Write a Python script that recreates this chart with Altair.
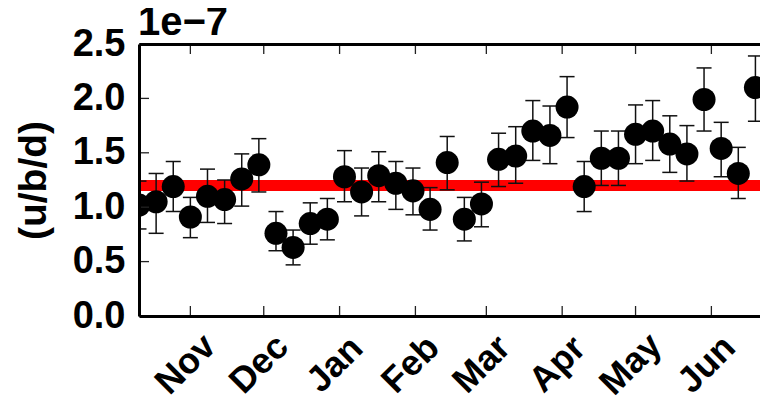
import altair as alt
import pandas as pd

# ---- data (ratio values in units of 1e-7) ----
dates = ["2015/10/11", "2015/10/18", "2015/10/25", "2015/11/01", "2015/11/08",
         "2015/11/15", "2015/11/22", "2015/11/29", "2015/12/06", "2015/12/13",
         "2015/12/20", "2015/12/27", "2016/01/03", "2016/01/10", "2016/01/17",
         "2016/01/24", "2016/01/31", "2016/02/07", "2016/02/14", "2016/02/21",
         "2016/02/28", "2016/03/06", "2016/03/13", "2016/03/20", "2016/03/27",
         "2016/04/03", "2016/04/10", "2016/04/17", "2016/04/24", "2016/05/01",
         "2016/05/08", "2016/05/15", "2016/05/22", "2016/05/29", "2016/06/05",
         "2016/06/12", "2016/06/19", "2016/06/26"]
ratio = [1.02, 1.05, 1.19, 0.91, 1.10, 1.07, 1.26, 1.39, 0.76, 0.63,
         0.85, 0.89, 1.28, 1.14, 1.29, 1.22, 1.15, 0.98, 1.41, 0.89,
         1.03, 1.44, 1.47, 1.70, 1.66, 1.92, 1.19, 1.45, 1.45, 1.67,
         1.70, 1.58, 1.49, 1.99, 1.54, 1.31, 2.10, 1.80]
err_hi = [1.24, 1.31, 1.42, 1.09, 1.35, 1.25, 1.49, 1.63, 0.96, 0.79,
          1.04, 1.08, 1.52, 1.36, 1.51, 1.42, 1.36, 1.18, 1.65, 1.09,
          1.23, 1.68, 1.74, 1.98, 1.93, 2.20, 1.42, 1.70, 1.70, 1.94,
          1.98, 1.84, 1.75, 2.28, 1.78, 1.55, 2.39, 2.05]
err_lo = [0.80, 0.76, 0.96, 0.72, 0.86, 0.85, 1.01, 1.14, 0.60, 0.47,
          0.66, 0.70, 1.05, 0.92, 1.05, 0.98, 0.93, 0.79, 1.16, 0.69,
          0.82, 1.19, 1.22, 1.43, 1.40, 1.64, 0.96, 1.20, 1.20, 1.40,
          1.43, 1.32, 1.24, 1.70, 1.28, 1.08, 1.79, 1.55]
reference_level = [1.2]
month_ticks = ["2015/11/01", "2015/12/01", "2016/01/01", "2016/02/01",
               "2016/03/01", "2016/04/01", "2016/05/01", "2016/06/01"]
y_ticks = [0.0, 0.5, 1.0, 1.5, 2.0, 2.5]
offset_text = ["1e\u22127"]
y_title = ["SLC Ratio", "(u/b/d)"]

df = pd.DataFrame({"date": dates, "ratio": ratio, "hi": err_hi, "lo": err_lo})
ref_df = pd.DataFrame({"v": reference_level})
mt_df = pd.DataFrame({"m": month_ticks})
yt_df = pd.DataFrame({"t": y_ticks})
off_df = pd.DataFrame({"s": offset_text})

W, H = 621, 272
FONT = "Liberation Sans"

x_scale = alt.Scale(domain=[alt.DateTime(year=2015, month=10, date=11),
                            alt.DateTime(year=2016, month=6, date=20, hours=21)])
y_scale = alt.Scale(domain=[0, 2.5], nice=False, zero=False)

x_axis_bottom = alt.Axis(
    values=[alt.DateTime(year=int(d[:4]), month=int(d[5:7]), date=1) for d in month_ticks],
    format="%b", labelAngle=315, labelAlign="center", labelBaseline="middle",
    labelPadding=48, labelOffset=-5, labelFontSize=36, labelFont=FONT,
    labelFontWeight="bold", labelColor="black", ticks=False,
    domain=True, domainColor="black", domainWidth=3, zindex=1,
    grid=False, title=None, labelOverlap=False, labelFlush=False,
)
x_axis_top = alt.Axis(
    orient="top", labels=False, ticks=False, grid=False, title=None,
    domain=True, domainColor="black", domainWidth=3, zindex=1,
)
y_axis = alt.Axis(
    values=y_ticks, format=".1f", labelFontSize=38, labelFont=FONT,
    labelFontWeight="bold", labelColor="black", labelPadding=14,
    ticks=False, domain=True, domainColor="black", domainWidth=3, zindex=1,
    grid=False,
    title=y_title, titleFontSize=39, titleFont=FONT, titleFontWeight="bold",
    titleColor="black", titleAngle=270, titleX=-140, titleY=H / 2,
    titleAlign="center", titleBaseline="alphabetic", titleLineHeight=46,
)


def X(field, axis=None):
    return alt.X(field, type="temporal", scale=x_scale, axis=axis)


def Y(field, axis=None):
    return alt.Y(field, type="quantitative", scale=y_scale, axis=axis)


ref_line = alt.Chart(ref_df).mark_rule(color="#ff0000", strokeWidth=11).encode(y=Y("v"))

bars = alt.Chart(df).mark_rule(color="#111111", strokeWidth=1.5, clip=True).encode(
    x=X("date"), y=Y("lo"), y2="hi")
cap_hi = alt.Chart(df).mark_tick(orient="horizontal", size=15, thickness=1.5,
                                 color="#111111", opacity=1, clip=True).encode(x=X("date"), y=Y("hi"))
cap_lo = alt.Chart(df).mark_tick(orient="horizontal", size=15, thickness=1.5,
                                 color="#111111", opacity=1, clip=True).encode(x=X("date"), y=Y("lo"))
points = alt.Chart(df).mark_circle(size=530, color="black", opacity=1, clip=True).encode(
    x=X("date", x_axis_bottom), y=Y("ratio", y_axis))

tick_style = dict(color="#222222", strokeWidth=1.3)
bottom_ticks = alt.Chart(mt_df).mark_rule(**tick_style).encode(
    x=X("m"), y=alt.value(H), y2=alt.value(H - 10))
top_ticks = alt.Chart(mt_df).mark_rule(**tick_style).encode(
    x=X("m", x_axis_top), y=alt.value(0), y2=alt.value(10))
left_ticks = alt.Chart(yt_df).mark_rule(**tick_style).encode(
    y=Y("t"), x=alt.value(0), x2=alt.value(10))

offset_label = alt.Chart(off_df).mark_text(
    align="left", baseline="alphabetic", fontSize=40, font=FONT,
    fontWeight="bold", color="black").encode(
    x=alt.value(-1), y=alt.value(-9), text="s:N")

chart = alt.layer(
    ref_line, bars, cap_hi, cap_lo, points,
    bottom_ticks, top_ticks, left_ticks, offset_label,
).resolve_axis(x="independent", y="independent").properties(
    width=W, height=H,
    autosize=alt.AutoSizeParams(type="none"),
    padding={"left": 131, "top": 36, "right": 0, "bottom": 85},
).configure_view(stroke=None).configure(background="white")

chart.save("out.html", embed_options={"renderer": "svg", "actions": False})
